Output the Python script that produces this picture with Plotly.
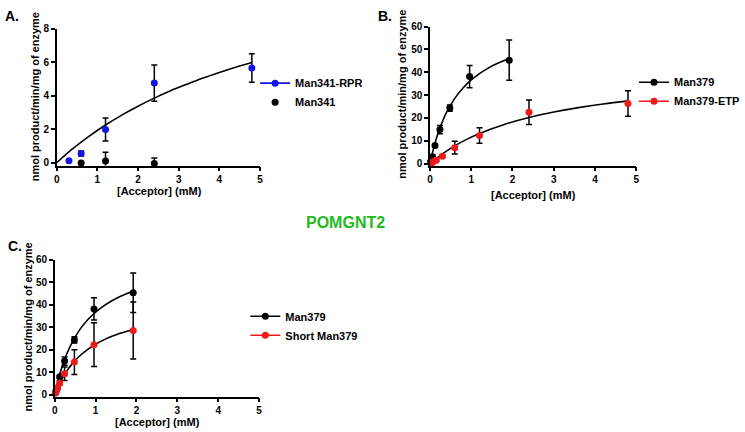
import plotly.graph_objects as go

# ---------------- Panel A data ----------------
a_rpr_x = [0.3, 0.6, 1.2, 2.4, 4.8]
a_rpr_y = [0.12, 0.55, 1.98, 4.75, 5.65]
a_rpr_err = [0.0, 0.15, 0.68, 1.08, 0.85]
a_341_x = [0.6, 1.2, 2.4]
a_341_y = [-0.02, 0.10, -0.05]
a_341_err = [0.0, 0.52, 0.33]
a_fit_x = [0, 0.4, 0.8, 1.2, 1.6, 2.0, 2.4, 2.8, 3.2, 3.6, 4.0, 4.4, 4.8]
a_fit_y = [0, 0.85, 1.59, 2.25, 2.84, 3.37, 3.85, 4.29, 4.68, 5.05, 5.38, 5.69, 5.97]

# ---------------- Panel B data ----------------
b_379_x = [0.015, 0.03, 0.06, 0.12, 0.24, 0.48, 0.96, 1.92]
b_379_y = [0.8, 1.5, 3.0, 7.9, 14.9, 24.3, 38.1, 45.3]
b_379_err = [0.3, 0.5, 0.8, 0.6, 1.8, 1.4, 4.9, 8.8]
b_etp_x = [0.0375, 0.075, 0.15, 0.3, 0.6, 1.2, 2.4, 4.8]
b_etp_y = [0.3, 0.8, 1.5, 3.2, 7.0, 12.3, 22.5, 26.3]
b_etp_err = [0.2, 0.3, 0.5, 0.6, 2.8, 3.4, 5.4, 5.6]
b_fit1_x = [0, 0.1, 0.2, 0.3, 0.4, 0.6, 0.8, 1.0, 1.2, 1.4, 1.6, 1.92]
b_fit1_y = [0, 7.60, 13.58, 18.41, 22.39, 28.57, 33.13, 36.65, 39.44, 41.71, 43.59, 46.01]
b_fit2_x = [0, 0.3, 0.6, 0.9, 1.2, 1.8, 2.4, 3.0, 3.6, 4.2, 4.8]
b_fit2_y = [0, 4.29, 7.79, 10.72, 13.20, 17.16, 20.20, 22.59, 24.53, 26.14, 27.48]

# ---------------- Panel C data ----------------
c_379_x = [0.015, 0.03, 0.06, 0.12, 0.24, 0.48, 0.96, 1.92]
c_379_y = [0.8, 1.5, 3.0, 7.9, 14.9, 24.3, 38.1, 45.3]
c_379_err = [0.3, 0.5, 0.8, 0.6, 1.8, 1.4, 4.9, 8.8]
c_short_x = [0.015, 0.03, 0.06, 0.12, 0.24, 0.48, 0.96, 1.92]
c_short_y = [0.7, 1.5, 3.0, 5.2, 9.3, 14.5, 22.2, 28.5]
c_short_err = [0.3, 0.5, 0.8, 1.0, 3.0, 5.5, 9.7, 12.7]
c_fit1_x = b_fit1_x
c_fit1_y = b_fit1_y
c_fit2_x = [0, 0.1, 0.2, 0.3, 0.4, 0.6, 0.8, 1.0, 1.2, 1.4, 1.6, 1.92]
c_fit2_y = [0, 4.27, 7.76, 10.66, 13.12, 17.05, 20.05, 22.42, 24.33, 25.91, 27.24, 28.98]

x_ticks = [0, 1, 2, 3, 4, 5]
a_y_ticks = [0, 2, 4, 6, 8]
bc_y_ticks = [0, 10, 20, 30, 40, 50, 60]

BLUE = "#1414e6"
RED = "#f01818"
BLACK = "#000000"
FONT = "Arial, Liberation Sans, sans-serif"

fig = go.Figure()


def err(vals):
    return dict(type="data", array=vals, color=BLACK, thickness=1.5, width=3)


def fit(x, y, xa, ya):
    fig.add_trace(go.Scatter(x=x, y=y, mode="lines", line=dict(color=BLACK, width=1.6, shape="spline"),
                             xaxis=xa, yaxis=ya, showlegend=False, hoverinfo="skip"))


def pts(x, y, e, color, xa, ya):
    fig.add_trace(go.Scatter(x=x, y=y, mode="markers", marker=dict(color=color, size=7),
                             error_y=err(e), xaxis=xa, yaxis=ya, showlegend=False, cliponaxis=False))


def leg(name, color, mode, legend, xa, ya):
    fig.add_trace(go.Scatter(x=[None], y=[None], mode=mode, name=name,
                             marker=dict(color=color, size=7), line=dict(color=color, width=1.6),
                             xaxis=xa, yaxis=ya, legend=legend))


# Panel A
fit(a_fit_x, a_fit_y, "x", "y")
pts(a_rpr_x, a_rpr_y, a_rpr_err, BLUE, "x", "y")
pts(a_341_x, a_341_y, a_341_err, BLACK, "x", "y")
leg("Man341-RPR", BLUE, "lines+markers", "legend", "x", "y")
leg("Man341", BLACK, "markers", "legend", "x", "y")

# Panel B
fit(b_fit1_x, b_fit1_y, "x2", "y2")
fit(b_fit2_x, b_fit2_y, "x2", "y2")
pts(b_379_x, b_379_y, b_379_err, BLACK, "x2", "y2")
pts(b_etp_x, b_etp_y, b_etp_err, RED, "x2", "y2")
leg("Man379", BLACK, "lines+markers", "legend2", "x2", "y2")
leg("Man379-ETP", RED, "lines+markers", "legend2", "x2", "y2")

# Panel C
fit(c_fit1_x, c_fit1_y, "x3", "y3")
fit(c_fit2_x, c_fit2_y, "x3", "y3")
pts(c_379_x, c_379_y, c_379_err, BLACK, "x3", "y3")
pts(c_short_x, c_short_y, c_short_err, RED, "x3", "y3")
leg("Man379", BLACK, "lines+markers", "legend3", "x3", "y3")
leg("Short Man379", RED, "lines+markers", "legend3", "x3", "y3")

W, H = 745, 432


def xax(l, r):
    return dict(domain=[l / W, r / W], range=[0, 5], tickvals=x_ticks, showline=True, linecolor=BLACK,
                linewidth=1.5, ticks="outside", ticklen=4, tickwidth=1.5, tickcolor=BLACK,
                showgrid=False, zeroline=False, tickfont=dict(family=FONT, size=10, color=BLACK, weight="bold"))


def yax(top, bot, rng, ticks, xa):
    return dict(domain=[1 - bot / H, 1 - top / H], range=rng, tickvals=ticks, anchor=xa, showline=True,
                linecolor=BLACK, linewidth=1.5, ticks="outside", ticklen=4, tickwidth=1.5, tickcolor=BLACK,
                showgrid=False, zeroline=False, tickfont=dict(family=FONT, size=10, color=BLACK, weight="bold"))


lfont = dict(family=FONT, size=11, color=BLACK, weight="bold")
legbase = dict(font=lfont, bgcolor="rgba(0,0,0,0)", borderwidth=0, itemwidth=30, tracegroupgap=0,
               xanchor="left", yanchor="top")

fig.update_layout(
    width=W, height=H, margin=dict(l=0, r=0, t=0, b=0),
    paper_bgcolor="white", plot_bgcolor="white",
    xaxis=dict(xax(55, 263), anchor="y"),
    yaxis=yax(23, 163, [-0.17, 8], a_y_ticks, "x"),
    xaxis2=dict(xax(437, 648), anchor="y2"),
    yaxis2=yax(21, 163, [-0.86, 60], bc_y_ticks, "x2"),
    xaxis3=dict(xax(53, 262), anchor="y3"),
    yaxis3=yax(259, 399, [-0.9, 60], bc_y_ticks, "x3"),
    legend=dict(legbase, x=258 / W, y=1 - 64 / H),
    legend2=dict(legbase, x=646 / W, y=1 - 63 / H),
    legend3=dict(legbase, x=248 / W, y=1 - 302 / H),
)

tfont = dict(family=FONT, size=11, color=BLACK, weight="bold")
anns = [
    dict(text="A.", x=0 / W, y=1 - 10 / H, xanchor="left", font=dict(family=FONT, size=14, color=BLACK, weight="bold")),
    dict(text="B.", x=382 / W, y=1 - 10 / H, xanchor="left", font=dict(family=FONT, size=14, color=BLACK, weight="bold")),
    dict(text="C.", x=3 / W, y=1 - 245 / H, xanchor="left", font=dict(family=FONT, size=14, color=BLACK, weight="bold")),
    dict(text="POMGNT2", x=351 / W, y=1 - 221 / H, font=dict(family=FONT, size=16, color="#22bb22", weight="bold")),
    dict(text="nmol product/min/mg of enzyme", x=33 / W, y=1 - 93 / H, textangle=-90, font=tfont),
    dict(text="nmol product/min/mg of enzyme", x=408 / W, y=1 - 90 / H, textangle=-90, font=tfont),
    dict(text="nmol product/min/mg of enzyme", x=26 / W, y=1 - 328 / H, textangle=-90, font=tfont),
    dict(text="[Acceptor] (mM)", x=160 / W, y=1 - 189 / H, font=tfont),
    dict(text="[Acceptor] (mM)", x=543 / W, y=1 - 193 / H, font=tfont),
    dict(text="[Acceptor] (mM)", x=158 / W, y=1 - 425 / H, font=tfont),
]
for a in anns:
    a.update(xref="paper", yref="paper", showarrow=False, yanchor="middle")
    a.setdefault("xanchor", "center")
    fig.add_annotation(**a)

fig.write_html("out.html", config={"displayModeBar": False},
               post_script="document.body.style.margin='0';")
